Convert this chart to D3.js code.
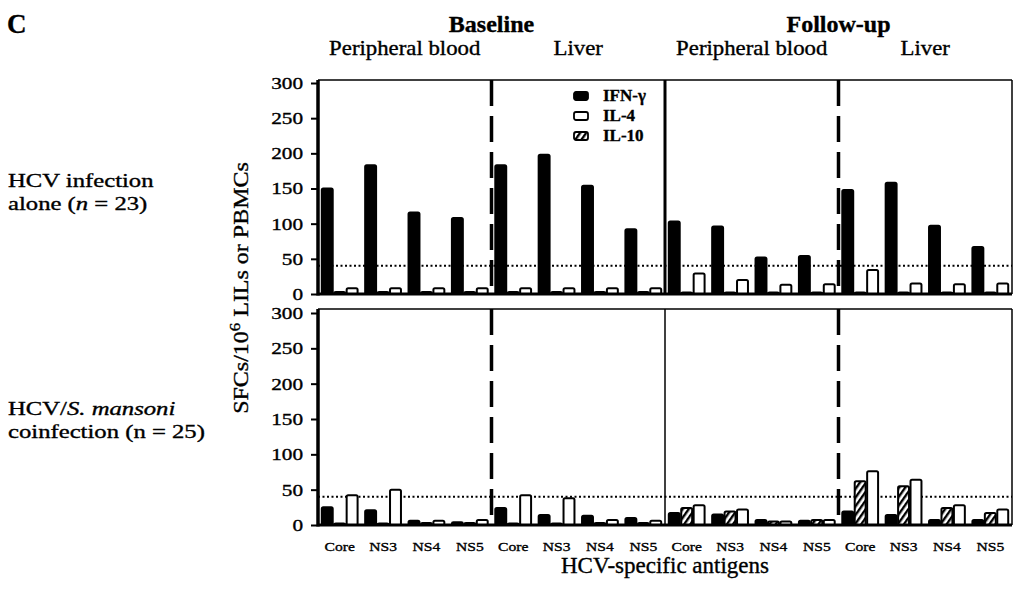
<!DOCTYPE html>
<html>
<head>
<meta charset="utf-8">
<script src="https://cdnjs.cloudflare.com/ajax/libs/d3/7.8.5/d3.min.js"></script>
<style>
  body { margin: 0; background: #fff; }
  svg text { font-family: "Liberation Serif", "Times New Roman", serif; fill: #000; stroke: #000; stroke-width: 0.35px; }
</style>
</head>
<body>
<svg id="chart"></svg>
<script>
// ---- data ----
const phases = ['Baseline', 'Follow-up'];
const sites = ['Peripheral blood', 'Liver', 'Peripheral blood', 'Liver'];
const antigens = ['Core', 'NS3', 'NS4', 'NS5'];
const cytokines = ['IFN-γ', 'IL-10', 'IL-4'];      // bar order inside a group
const legendOrder = ['IFN-γ', 'IL-4', 'IL-10'];
const yTicks = [0, 50, 100, 150, 200, 250, 300];
const cutoff = 40;

// 16 groups each: baseline PB, baseline liver, follow-up PB, follow-up liver (Core, NS3, NS4, NS5)
// HCV infection alone (n = 23)
const ifnAlone = [150, 183, 116, 108, 183, 198, 154, 92, 103, 96, 52, 54, 148, 158, 97, 67];
const il10Alone = [3, 3, 3, 3, 3, 3, 3, 3, 2, 2, 2, 2, 2, 2, 2, 2];
const il4Alone = [8, 8, 8, 8, 8, 8, 8, 8, 29, 20, 13, 14, 34, 15, 14, 15];
// HCV/S. mansoni coinfection (n = 25)
const ifnCo = [25, 21, 6, 4, 24, 14, 13, 10, 17, 15, 7, 6, 19, 14, 7, 7];
const il10Co = [2, 2, 3, 3, 2, 2, 3, 3, 24, 19, 5, 7, 62, 55, 24, 17];
const il4Co = [42, 50, 6, 7, 42, 38, 7, 6, 28, 22, 5, 7, 76, 64, 28, 22];

const width = 1015;
const height = 590;
const left = 318;
const right = 1012;

const svg = d3.select('#chart')
    .attr('width', width)
    .attr('height', height);

// hatch for IL-10
const defs = svg.append('defs');
const hatch = defs.append('pattern')
    .attr('id', 'hatch')
    .attr('patternUnits', 'userSpaceOnUse')
    .attr('width', 5)
    .attr('height', 5)
    .attr('patternTransform', 'rotate(35)');
hatch.append('rect').attr('width', 5).attr('height', 5).attr('fill', '#fff');
hatch.append('line')
    .attr('x1', 1.2).attr('y1', 0).attr('x2', 1.2).attr('y2', 5)
    .attr('stroke', '#000').attr('stroke-width', 2.4);

const fills = { 'IFN-γ': '#000', 'IL-4': '#fff', 'IL-10': 'url(#hatch)' };

// text helper, the scanned type is wide so stretch it a bit
function addText(parent, x, y, sx, size) {
    return parent.append('text')
        .attr('transform', `translate(${x},${y}) scale(${sx},1)`)
        .style('font-size', size + 'px');
}

// Scales
const groups = sites.flatMap((s, si) => antigens.map((a) => ({ key: si + '-' + a, site: si, antigen: a })));
const x0 = d3.scaleBand()
    .domain(groups.map((d) => d.key))
    .range([left, right])
    .paddingInner(0.14)
    .paddingOuter(0.07);
const x1 = d3.scaleBand()
    .domain(cytokines)
    .range([0, x0.bandwidth()]);
const sectionScale = d3.scaleBand().domain(d3.range(sites.length)).range([left, right]);
const phaseScale = d3.scaleBand().domain(phases).range([left, right]);

function createPanel(series, y, frameTop, midWidth) {
    const g = svg.append('g');

    // frame
    g.append('line')
        .attr('x1', left).attr('x2', right)
        .attr('y1', frameTop).attr('y2', frameTop)
        .attr('stroke', '#000').attr('stroke-width', 1.5);
    g.append('line')
        .attr('x1', right).attr('x2', right)
        .attr('y1', frameTop).attr('y2', y(0))
        .attr('stroke', '#000').attr('stroke-width', 1.5);

    // cutoff
    g.append('line')
        .attr('x1', left).attr('x2', right)
        .attr('y1', y(cutoff)).attr('y2', y(cutoff))
        .attr('stroke', '#000').attr('stroke-width', 2)
        .attr('stroke-dasharray', '2,2.5');

    // bars
    const data = groups.flatMap((grp, i) => cytokines.map((c) => ({ grp, c, v: series[c][i] })));
    g.selectAll('rect.bar').data(data).enter().append('rect')
        .attr('class', 'bar')
        .attr('x', (d) => x0(d.grp.key) + x1(d.c) + 0.75)
        .attr('width', x1.bandwidth() - 1.5)
        .attr('y', (d) => y(d.v))
        .attr('height', (d) => y(0) - y(d.v))
        .attr('rx', 1.5)
        .attr('fill', (d) => fills[d.c])
        .attr('stroke', '#000')
        .attr('stroke-width', 2);

    // section separators
    [1, 2, 3].forEach((i) => {
        const sx = sectionScale(i);
        g.append('line')
            .attr('x1', sx).attr('x2', sx)
            .attr('y1', frameTop).attr('y2', y(0))
            .attr('stroke', '#000')
            .attr('stroke-width', i === 2 ? midWidth : 3.5)
            .attr('stroke-dasharray', i === 2 ? null : '26,10');
    });

    // baseline
    g.append('line')
        .attr('x1', left).attr('x2', right)
        .attr('y1', y(0)).attr('y2', y(0))
        .attr('stroke', '#000').attr('stroke-width', 3);

    // y axis
    const yaxis = d3.axisLeft(y).tickValues(yTicks).tickSize(7).tickPadding(8);
    const g_yaxis = g.append('g')
        .attr('transform', `translate(${left},0)`)
        .call(yaxis);
    g_yaxis.select('.domain').remove();
    g_yaxis.selectAll('line').attr('stroke-width', 2);
    g_yaxis.selectAll('text')
        .attr('x', -15 / 1.25)
        .attr('transform', 'scale(1.25,1)')
        .style('font-size', '17px')
        .style('font-family', '"Liberation Serif", serif');
    g.append('line')
        .attr('x1', left).attr('x2', left)
        .attr('y1', frameTop).attr('y2', y(0) + 1.5)
        .attr('stroke', '#000').attr('stroke-width', 3.5);

    return g;
}

const yTop = d3.scaleLinear().domain([0, 300]).range([294, 83]);
const yBot = d3.scaleLinear().domain([0, 300]).range([525, 313]);

const topPanel = createPanel({ 'IFN-γ': ifnAlone, 'IL-10': il10Alone, 'IL-4': il4Alone }, yTop, 80, 3);
createPanel({ 'IFN-γ': ifnCo, 'IL-10': il10Co, 'IL-4': il4Co }, yBot, 309, 1.5);

// legend
const legend = topPanel.append('g').attr('transform', 'translate(574,96)');
legendOrder.forEach((c, i) => {
    legend.append('rect')
        .attr('x', 0).attr('y', i * 20 - 4)
        .attr('width', 14).attr('height', 8)
        .attr('rx', 2)
        .attr('fill', fills[c])
        .attr('stroke', '#000').attr('stroke-width', 1.8);
    legend.append('text')
        .attr('x', 29).attr('y', i * 20 + 5)
        .style('font-size', '17px')
        .style('font-weight', 'bold')
        .text(c);
});

// antigen labels
groups.forEach((grp) => {
    addText(svg, x0(grp.key) + x0.bandwidth() / 2, 551, 1.2, 13)
        .attr('text-anchor', 'middle')
        .text(grp.antigen);
});

// headers
phases.forEach((p) => {
    svg.append('text')
        .attr('x', phaseScale(p) + phaseScale.bandwidth() / 2)
        .attr('y', 32)
        .attr('text-anchor', 'middle')
        .style('font-size', '24px')
        .style('font-weight', 'bold')
        .text(p);
});
sites.forEach((s, i) => {
    addText(svg, sectionScale(i) + sectionScale.bandwidth() / 2, 55, 1.14, 20)
        .attr('text-anchor', 'middle')
        .text(s);
});

svg.append('text')
    .attr('x', 7).attr('y', 33)
    .style('font-size', '27px')
    .style('font-weight', 'bold')
    .text('C');

// row labels
addText(svg, 8, 187, 1.3, 19).text('HCV infection');
const alone = addText(svg, 8, 210, 1.3, 19);
alone.append('tspan').text('alone (');
alone.append('tspan').style('font-style', 'italic').text('n');
alone.append('tspan').text(' = 23)');

const co = addText(svg, 8, 415, 1.3, 19);
co.append('tspan').text('HCV/');
co.append('tspan').style('font-style', 'italic').text('S. mansoni');
addText(svg, 8, 438, 1.3, 19).text('coinfection (n = 25)');

// axis titles
const ylab = svg.append('text')
    .attr('transform', 'translate(248,288) rotate(-90) scale(1.2,1)')
    .attr('text-anchor', 'middle')
    .style('font-size', '20px');
ylab.append('tspan').text('SFCs/10');
ylab.append('tspan').attr('dy', -8).style('font-size', '14px').text('6');
ylab.append('tspan').attr('dy', 8).text(' LILs or PBMCs');

svg.append('text')
    .attr('x', (left + right) / 2)
    .attr('y', 573)
    .attr('text-anchor', 'middle')
    .style('font-size', '23px')
    .text('HCV-specific antigens');
</script>
</body>
</html>
